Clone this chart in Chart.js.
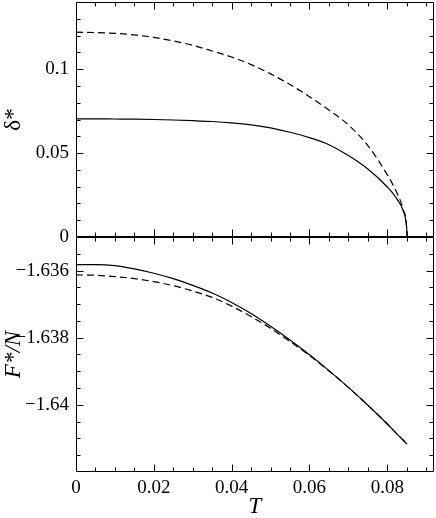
<!DOCTYPE html>
<html>
<head>
<meta charset="utf-8">
<script src="https://cdn.jsdelivr.net/npm/chart.js@4.4.1/dist/chart.umd.min.js"></script>
<style>
  html, body { margin: 0; padding: 0; background: #fff; }
  #wrap { position: relative; width: 436px; height: 518px; }
  canvas { position: absolute; left: 0; }
  #top-chart { top: 0; }
  #bottom-chart { top: 235px; }
</style>
</head>
<body>
<div id="wrap">
  <canvas id="top-chart" width="436" height="250"></canvas>
  <canvas id="bottom-chart" width="436" height="283"></canvas>
</div>
<script>
// temperature grid (shared by both panels)
const temps = [0, 0.005, 0.01, 0.015, 0.02, 0.025, 0.03, 0.035, 0.04, 0.045, 0.05,
               0.055, 0.06, 0.065, 0.07, 0.075, 0.08, 0.0825, 0.084, 0.085, 0.0851];

// upper panel: delta*
const deltaSolid  = [0.0704, 0.0704, 0.0703, 0.0702, 0.0700, 0.0697, 0.0693, 0.0688, 0.0680, 0.0668, 0.0650,
                     0.0624, 0.0592, 0.0550, 0.0485, 0.0405, 0.0298, 0.0226, 0.0160, 0.0048, 0];
const deltaDashed = [0.1220, 0.1218, 0.1213, 0.1204, 0.1189, 0.1168, 0.1142, 0.1108, 0.1072, 0.1027, 0.0972,
                     0.0908, 0.0836, 0.0756, 0.0668, 0.0545, 0.0370, 0.0262, 0.0170, 0.0050, 0];

// lower panel: F*/N
const freeSolid  = [-1.63582, -1.63582, -1.63585, -1.63595, -1.63608, -1.63624, -1.63644, -1.63667, -1.63695, -1.63728, -1.63766,
                    -1.63807, -1.63851, -1.63898, -1.63948, -1.64001, -1.64057, -1.64087, -1.64104, -1.64116, -1.64117];
const freeDashed = [-1.63613, -1.63614, -1.63618, -1.63624, -1.63633, -1.63645, -1.63661, -1.63680, -1.63706, -1.63737, -1.63772,
                    -1.63811, -1.63853, -1.63899, -1.63948, -1.64001, -1.64057, -1.64087, -1.64104, -1.64116, -1.64117];

// tick labels
const xTicks = [0, 0.02, 0.04, 0.06, 0.08];
const xTickLabels = ['0', '0.02', '0.04', '0.06', '0.08'];
const deltaTicks = [0, 0.05, 0.1];
const deltaTickLabels = ['0', '0.05', '0.1'];
const freeTicks = [-1.64, -1.638, -1.636];
const freeTickLabels = ['\u22121.64', '\u22121.638', '\u22121.636'];

const serif = '"Liberation Serif", "Times New Roman", "DejaVu Serif", serif';
Chart.defaults.font.family = serif;
Chart.defaults.font.size = 19;
Chart.defaults.color = '#000';

const points = (ys) => temps.map((t, i) => ({ x: t, y: ys[i] }));

const stepValues = (min, max, step) => {
    const out = [];
    const n = Math.round((max - min) / step);
    for (let i = 0; i <= n; i++) out.push(min + i * step);
    return out;
};

// keep the scales from pushing the plot area around
const fixWidth = (w) => (s) => { s.width = w; s.paddingTop = 0; s.paddingBottom = 0; s.paddingLeft = 0; s.paddingRight = 0; };
const fixHeight = (h) => (s) => { s.height = h; s.paddingTop = 0; s.paddingBottom = 0; s.paddingLeft = 0; s.paddingRight = 0; };

// frame + inward ticks on all four sides
const frameTicks = {
    id: 'frameTicks',
    afterDatasetsDraw(chart, args, opts) {
        const { ctx, chartArea: a, scales } = chart;
        const isMajor = (v, step) => Math.abs(v / step - Math.round(v / step)) < 1e-6;
        ctx.save();
        ctx.strokeStyle = '#000';
        ctx.lineWidth = 1;
        ctx.beginPath();
        const L = Math.round(a.left) + 0.5, R = Math.round(a.right) - 0.5;
        const T = Math.round(a.top) + 0.5, B = Math.round(a.bottom) - 0.5;
        ctx.rect(L, T, R - L, B - T);
        stepValues(opts.xMin, opts.xMax, opts.xMinor).forEach(v => {
            const px = Math.round(scales.x.getPixelForValue(v)) + 0.5;
            if (px <= L + 1 || px >= R - 1) return;
            const len = isMajor(v, opts.xMajor) ? 7 : 4;
            ctx.moveTo(px, B); ctx.lineTo(px, B - len);
            ctx.moveTo(px, T); ctx.lineTo(px, T + len);
        });
        stepValues(opts.yMin, opts.yMax, opts.yMinor).forEach(v => {
            const py = Math.round(scales.y.getPixelForValue(v)) + 0.5;
            if (py <= T + 1 || py >= B - 1) return;
            const len = isMajor(v - opts.yBase, opts.yMajor) ? 7 : 4;
            ctx.moveTo(L, py); ctx.lineTo(L + len, py);
            ctx.moveTo(R, py); ctx.lineTo(R - len, py);
        });
        ctx.stroke();
        ctx.restore();
    }
};

const lineStyle = (dashed) => ({
    borderColor: '#000',
    borderWidth: 1.2,
    borderDash: dashed ? [7, 4] : [],
    pointRadius: 0,
    fill: false,
    cubicInterpolationMode: 'monotone'
});

// upper panel
new Chart(document.getElementById('top-chart'), {
    type: 'line',
    data: {
        datasets: [
            { data: points(deltaSolid), ...lineStyle(false) },
            { data: points(deltaDashed), ...lineStyle(true) }
        ]
    },
    options: {
        responsive: false,
        animation: false,
        layout: { autoPadding: false, padding: { left: 0, right: 2, top: 2, bottom: 13 } },
        plugins: {
            legend: { display: false },
            tooltip: { enabled: false },
            frameTicks: { xMin: 0, xMax: 0.09, xMinor: 0.005, xMajor: 0.02,
                          yMin: 0, yMax: 0.14, yMinor: 0.01, yMajor: 0.05, yBase: 0 }
        },
        scales: {
            x: {
                type: 'linear', min: 0, max: 0.092,
                grid: { display: false }, border: { display: false },
                ticks: { display: false },
                afterFit: fixHeight(0)
            },
            y: {
                min: 0, max: 0.14,
                grid: { display: false, drawTicks: false }, border: { display: false },
                afterBuildTicks: (s) => { s.ticks = deltaTicks.map(v => ({ value: v })); },
                ticks: { padding: 7, autoSkip: false, callback: (v, i) => deltaTickLabels[i] },
                title: { display: true, text: 'δ*', font: { size: 23, lineHeight: 1 }, padding: { top: 2, bottom: 0 } },
                afterFit: fixWidth(76)
            }
        }
    },
    plugins: [frameTicks]
});

// lower panel
new Chart(document.getElementById('bottom-chart'), {
    type: 'line',
    data: {
        datasets: [
            { data: points(freeSolid), ...lineStyle(false) },
            { data: points(freeDashed), ...lineStyle(true) }
        ]
    },
    options: {
        responsive: false,
        animation: false,
        layout: { autoPadding: false, padding: { left: 0, right: 2, top: 2, bottom: 0 } },
        plugins: {
            legend: { display: false },
            tooltip: { enabled: false },
            frameTicks: { xMin: 0, xMax: 0.09, xMinor: 0.005, xMajor: 0.02,
                          yMin: -1.642, yMax: -1.635, yMinor: 0.0005, yMajor: 0.002, yBase: -1.642 }
        },
        scales: {
            x: {
                type: 'linear', min: 0, max: 0.092,
                grid: { display: false, drawTicks: false }, border: { display: false },
                afterBuildTicks: (s) => { s.ticks = xTicks.map(v => ({ value: v })); },
                ticks: { padding: 5, autoSkip: false, maxRotation: 0, callback: (v, i) => xTickLabels[i] },
                title: { display: true, text: 'T', font: { size: 23, style: 'italic', lineHeight: 1 }, padding: { top: 0, bottom: 0 } },
                afterFit: fixHeight(46)
            },
            y: {
                min: -1.642, max: -1.635,
                grid: { display: false, drawTicks: false }, border: { display: false },
                afterBuildTicks: (s) => { s.ticks = freeTicks.map(v => ({ value: v })); },
                ticks: { padding: 7, autoSkip: false, callback: (v, i) => freeTickLabels[i] },
                title: { display: true, text: 'F*/N', font: { size: 23, style: 'italic', lineHeight: 1 }, padding: { top: 2, bottom: 0 } },
                afterFit: fixWidth(76)
            }
        }
    },
    plugins: [frameTicks]
});
</script>
</body>
</html>
